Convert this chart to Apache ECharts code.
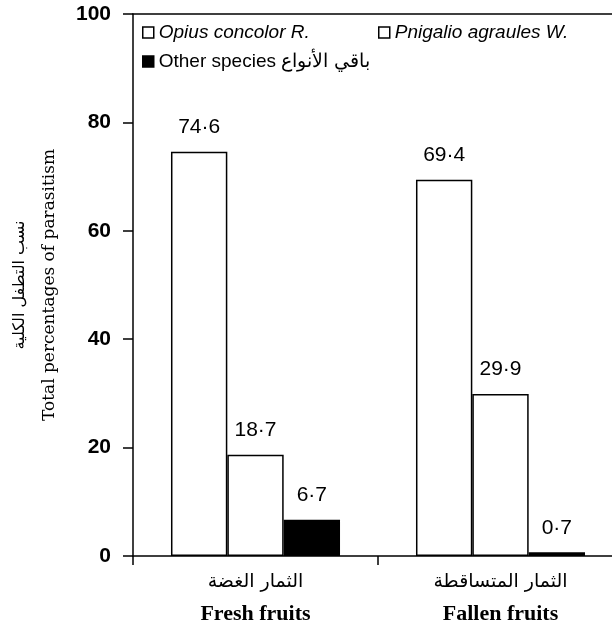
<!DOCTYPE html>
<html>
<head>
<meta charset="utf-8">
<script src="https://cdn.jsdelivr.net/npm/echarts@6/dist/echarts.min.js"></script>
<style>html,body{margin:0;padding:0;background:#fff;overflow:hidden}#c{width:623px;height:631px}</style>
</head>
<body>
<div id="c"></div>
<script>
const categories = [
  {ar: 'الثمار الغضة', en: 'Fresh fruits'},
  {ar: 'الثمار المتساقطة', en: 'Fallen fruits'}
];
const seriesNames = ['Opius concolor R.', 'Pnigalio agraules W.', 'Other species باقي الأنواع'];
const opiusValues = [74.6, 69.4];
const pnigalioValues = [18.7, 29.9];
const otherValues = [6.7, 0.7];
const yTicks = [0, 20, 40, 60, 80, 100];
const yAxisTitleAr = 'نسب التطفل الكلية';
const yAxisTitleEn = 'Total percentages of parasitism';

const chart = echarts.init(document.getElementById('c'), null, {renderer: 'canvas'});

const labelCfg = {
  show: true, position: 'top', distance: 14, color: '#000',
  fontFamily: 'Liberation Sans, Arial, sans-serif', fontSize: 21,
  formatter: p => String(p.value.toFixed(1)).replace('.', '·')
};
const legendBase = {
  itemWidth: 11, itemHeight: 11, icon: 'rect',
  textStyle: {fontFamily: 'Liberation Sans, Arial, sans-serif', fontSize: 19, color: '#000'},
  selectedMode: false, padding: 0
};
function barSeries(name, data, fill) {
  return {
    name: name, type: 'bar', data: data, barGap: '0%', barCategoryGap: '31%',
    itemStyle: {color: fill, borderColor: '#000', borderWidth: 1.5},
    label: labelCfg, emphasis: {disabled: true}
  };
}

chart.setOption({
  animation: false,
  legend: [
    Object.assign({}, legendBase, {left: 142, top: 23, data: [{name: seriesNames[0], textStyle: {fontStyle: 'italic'}, itemStyle: {color: '#fff', borderColor: '#000', borderWidth: 1.5}}]}),
    Object.assign({}, legendBase, {left: 378, top: 23, data: [{name: seriesNames[1], textStyle: {fontStyle: 'italic'}, itemStyle: {color: '#fff', borderColor: '#000', borderWidth: 1.5}}]}),
    Object.assign({}, legendBase, {left: 142, top: 52, data: [{name: seriesNames[2], itemStyle: {color: '#000', borderColor: '#000', borderWidth: 1.5}}]})
  ],
  grid: {left: 133, top: 14, right: 0, bottom: 75, containLabel: false},
  xAxis: [{
    type: 'category',
    data: categories.map(c => '{ar|' + c.ar + '}\n{en|' + c.en + '}'),
    axisLine: {show: true, lineStyle: {color: '#000', width: 1.5}},
    axisTick: {show: true, length: 9, inside: false, lineStyle: {color: '#000', width: 1.5}},
    axisLabel: {
      margin: 12, color: '#000',
      rich: {
        ar: {fontFamily: 'DejaVu Sans, sans-serif', fontSize: 19, lineHeight: 28, color: '#000'},
        en: {fontFamily: 'Liberation Serif, Times New Roman, serif', fontWeight: 'bold', fontSize: 22, lineHeight: 36, color: '#000'}
      }
    }
  }, {
    type: 'category', position: 'top', data: categories.map(c => c.en),
    axisLine: {show: true, lineStyle: {color: '#000', width: 1.5}},
    axisTick: {show: false}, axisLabel: {show: false}
  }],
  yAxis: {
    type: 'value', min: yTicks[0], max: yTicks[yTicks.length - 1], interval: 20,
    axisLine: {show: true, lineStyle: {color: '#000', width: 1.5}},
    axisTick: {show: true, length: 10, lineStyle: {color: '#000', width: 1.5}},
    splitLine: {show: false},
    axisLabel: {margin: 22, color: '#000', fontFamily: 'Liberation Sans, Arial, sans-serif', fontWeight: 'bold', fontSize: 21},
    name: '{ar|' + yAxisTitleAr + '}\n{en|' + yAxisTitleEn + '}',
    nameLocation: 'middle', nameRotate: 90, nameGap: 71,
    nameTextStyle: {
      color: '#000',
      rich: {
        ar: {fontFamily: 'DejaVu Sans, sans-serif', fontSize: 16, lineHeight: 36, color: '#000'},
        en: {fontFamily: 'DejaVu Serif, serif', fontSize: 17, lineHeight: 24, color: '#000'}
      }
    }
  },
  series: [
    barSeries(seriesNames[0], opiusValues, '#fff'),
    barSeries(seriesNames[1], pnigalioValues, '#fff'),
    barSeries(seriesNames[2], otherValues, '#000')
  ]
});
</script>
</body>
</html>
